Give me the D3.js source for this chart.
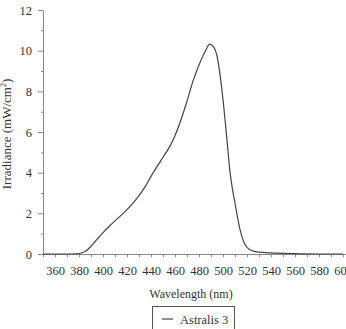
<!DOCTYPE html>
<html>
<head>
<meta charset="utf-8">
<script src="https://cdn.jsdelivr.net/npm/d3@7"></script>
<style>
  body { margin: 0; background: #fff; }
  text { font-family: "Liberation Serif", "Times New Roman", serif; fill: #333; }
</style>
</head>
<body>
<div id="chart"></div>
<script>
const wavelength = [350, 370, 378, 382, 386, 390, 395, 400, 405, 410, 415, 420, 425, 430, 435, 440, 445, 450, 455, 460, 465, 470, 475, 480, 485, 489, 492, 495, 498, 500, 503, 506, 510, 514, 518, 522, 527, 535, 545, 560, 580, 600]
const irradiance = [0, 0, 0.01, 0.05, 0.16, 0.38, 0.72, 1.05, 1.35, 1.63, 1.9, 2.18, 2.5, 2.87, 3.3, 3.82, 4.3, 4.76, 5.22, 5.82, 6.6, 7.52, 8.5, 9.3, 9.95, 10.32, 10.2, 9.75, 8.6, 7.6, 5.8, 3.95, 2.5, 1.25, 0.5, 0.22, 0.12, 0.07, 0.04, 0.015, 0, 0]
const yMajor = [0, 2, 4, 6, 8, 10, 12]
const yMinor = [1, 3, 5, 7, 9, 11]
const xTicks = d3.range(350, 601, 10)
const seriesName = "Astralis 3"

const width = 346
const height = 329
const serif = "Liberation Serif, Times New Roman, serif"

const svg = d3.select("#chart")
              .append("svg")
              .attr("width", width)
              .attr("height", height)

const x = d3.scaleLinear()
            .domain([350, 602.5])
            .range([43, 346])

const y = d3.scaleLinear()
            .domain([0, 12])
            .range([254, 10])

const axisColor = "#888"

// x axis
const xAxis = svg.append("g")
    .attr("transform", `translate(0,${y(0)})`)
    .call(d3.axisBottom(x)
      .tickValues(xTicks)
      .tickSize(3)
      .tickSizeOuter(0)
      .tickFormat(d => (d >= 360 && d % 20 == 0) ? d : ""))
xAxis.attr("font-family", serif)
xAxis.select(".domain").attr("stroke", axisColor)
xAxis.selectAll("line").attr("stroke", axisColor)
xAxis.selectAll("text")
     .attr("y", 12)
     .attr("dy", "0.71em")
     .attr("font-size", "12.5px")
     .attr("fill", "#333")

// y axis, major + minor ticks
const yAxis = svg.append("g")
    .attr("transform", `translate(${x(350)},0)`)
    .call(d3.axisLeft(y)
      .tickValues(yMajor)
      .tickSize(5)
      .tickSizeOuter(0)
      .tickPadding(6))
yAxis.attr("font-family", serif)
yAxis.select(".domain").attr("stroke", axisColor)
yAxis.selectAll("line").attr("stroke", axisColor)
yAxis.selectAll("text")
     .attr("font-size", "12.5px")
     .attr("fill", "#333")

const yMinorAxis = svg.append("g")
    .attr("transform", `translate(${x(350)},0)`)
    .call(d3.axisLeft(y)
      .tickValues(yMinor)
      .tickSize(2)
      .tickSizeOuter(0)
      .tickFormat(""))
yMinorAxis.select(".domain").remove()
yMinorAxis.selectAll("line").attr("stroke", axisColor)

// the curve
const points = wavelength.map((d, i) => [d, irradiance[i]])
const line = d3.line()
               .x(d => x(d[0]))
               .y(d => y(d[1]))
               .curve(d3.curveMonotoneX)

svg.append("path")
   .datum(points)
   .attr("fill", "none")
   .attr("stroke", "#444")
   .attr("stroke-width", 1.2)
   .attr("d", line)

// axis titles
svg.append("text")
   .attr("x", 191)
   .attr("y", 298)
   .attr("text-anchor", "middle")
   .attr("font-size", "12px")
   .text("Wavelength (nm)")

const yTitle = svg.append("text")
   .attr("transform", `translate(11,${y(6) + 2}) rotate(-90)`)
   .attr("text-anchor", "middle")
   .attr("font-size", "13px")
yTitle.append("tspan").text("Irradiance (mW/cm")
yTitle.append("tspan").attr("font-size", "8px").attr("dy", "-5").text("2")
yTitle.append("tspan").attr("dy", "5").text(")")

// legend
const legend = svg.append("g")
legend.append("rect")
      .attr("x", 152.5)
      .attr("y", 306.5)
      .attr("width", 82)
      .attr("height", 30)
      .attr("fill", "white")
      .attr("stroke", "#555")
legend.append("line")
      .attr("x1", 162)
      .attr("x2", 173)
      .attr("y1", 319)
      .attr("y2", 319)
      .attr("stroke", "#444")
      .attr("stroke-width", 1.2)
legend.append("text")
      .attr("x", 180)
      .attr("y", 323.5)
      .attr("font-size", "12.5px")
      .text(seriesName)
</script>
</body>
</html>
